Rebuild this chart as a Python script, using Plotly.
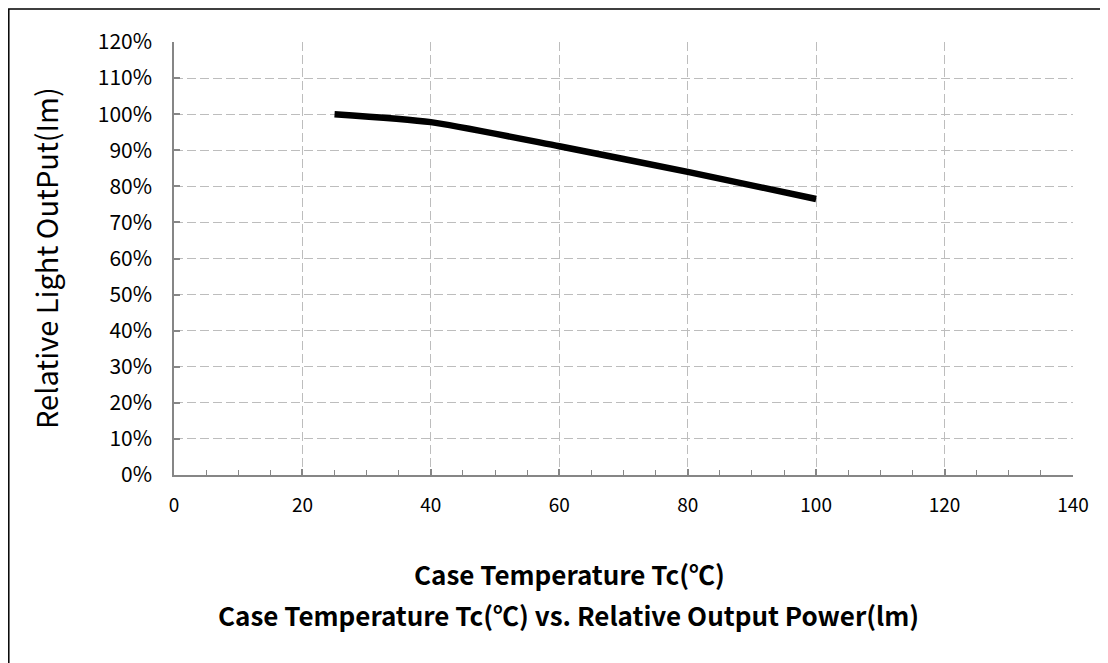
import plotly.graph_objects as go

# Data
temps = [25, 40, 60, 80, 100]
rel_output = [1.00, 0.978, 0.911, 0.840, 0.765]

x_title = "Case Temperature Tc(℃)"
y_title = "Relative Light OutPut(Im)"
sub_title = "Case Temperature Tc(℃) vs. Relative Output Power(lm)"

# The page body has an 8px margin; the figure is sized to compensate.
OFF = 8
W, H = 1108 - OFF, 663 - OFF
L, R, T, B = 174 - OFF, 35, 42 - OFF, 188
pw, ph = W - L - R, H - T - B
plot_left_page = OFF + L
plot_bottom_page = OFF + T + ph

def px(xp):  # page pixel -> paper x
    return (xp - plot_left_page) / pw

def py(yp):  # page pixel -> paper y
    return (plot_bottom_page - yp) / ph

FONT = "Noto Sans CJK KR, Open Sans, sans-serif"

fig = go.Figure()
fig.add_trace(go.Scatter(
    x=temps, y=rel_output, mode="lines",
    line=dict(color="black", width=6.5, shape="spline", smoothing=0.6),
    hoverinfo="skip", showlegend=False,
))

fig.update_layout(
    width=W, height=H,
    margin=dict(l=L, r=R, t=T, b=B),
    paper_bgcolor="white", plot_bgcolor="white",
    showlegend=False,
    xaxis=dict(
        range=[0, 140], dtick=20, tick0=0,
        showline=True, linecolor="#868686", linewidth=1.5,
        ticks="inside", ticklen=6, tickcolor="#868686", tickwidth=1.5,
        minor=dict(dtick=5, ticks="inside", ticklen=5, tickcolor="#868686", tickwidth=1.2, showgrid=False),
        showgrid=True, gridcolor="#BDBDBD", griddash="9px,4px", gridwidth=1.3,
        zeroline=False,
        tickfont=dict(size=19, family=FONT, color="black"),
        ticklabelstandoff=12,
    ),
    yaxis=dict(
        range=[0, 1.2], dtick=0.1, tick0=0, tickformat=".0%",
        showline=True, linecolor="#868686", linewidth=1.5,
        ticks="inside", ticklen=6, tickcolor="#868686", tickwidth=1.5,
        showgrid=True, gridcolor="#BDBDBD", griddash="9px,4px", gridwidth=1.3,
        zeroline=False,
        tickfont=dict(size=21, family=FONT, color="black"),
        ticklabelstandoff=16,
    ),
    font=dict(family=FONT, color="black"),
)

fig.add_annotation(
    text=y_title, xref="paper", yref="paper",
    x=px(45), y=py(258), xanchor="center", yanchor="middle",
    textangle=-90, showarrow=False,
    font=dict(size=29, family=FONT, color="black"),
)
fig.add_annotation(
    text="<b>" + x_title + "</b>", xref="paper", yref="paper",
    x=px(569), y=py(573), xanchor="center", yanchor="middle", showarrow=False,
    font=dict(size=26, family=FONT, color="black"),
)
fig.add_annotation(
    text="<b>" + sub_title + "</b>", xref="paper", yref="paper",
    x=px(568), y=py(614), xanchor="center", yanchor="middle", showarrow=False,
    font=dict(size=26, family=FONT, color="black"),
)

fig.add_shape(
    type="rect", xref="paper", yref="paper",
    x0=px(8.8), x1=px(1140), y0=py(720), y1=py(9),
    line=dict(color="black", width=1.5), fillcolor="rgba(0,0,0,0)", layer="above",
)

fig.write_html("out.html")
